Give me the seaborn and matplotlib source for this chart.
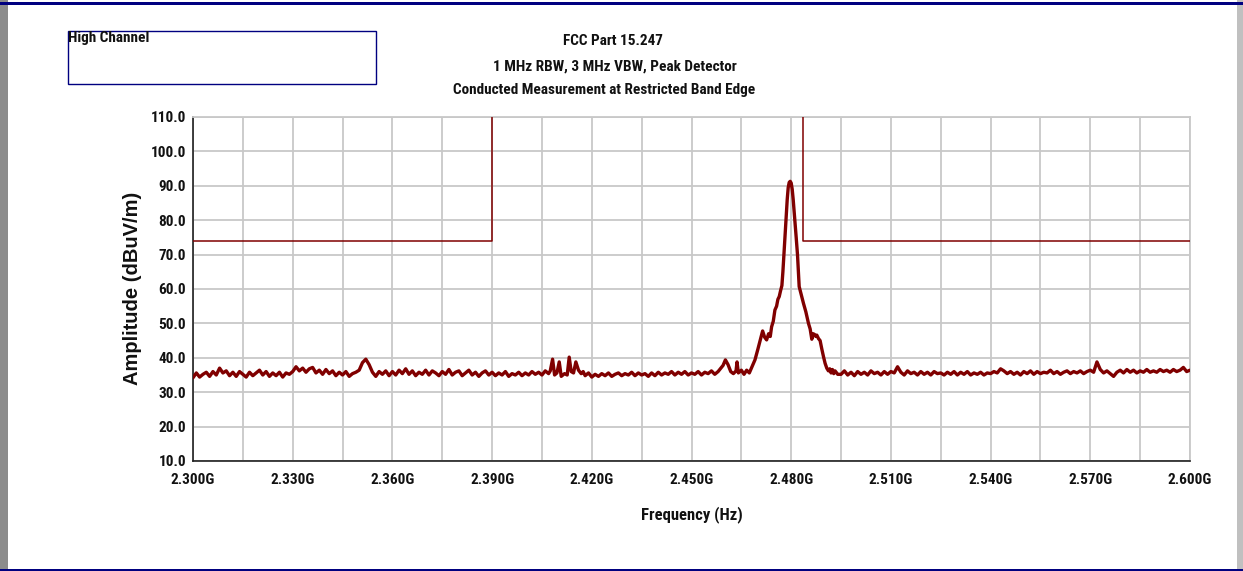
import matplotlib
matplotlib.use("Agg")
import matplotlib.pyplot as plt
import matplotlib.patches as mpatches
from matplotlib.ticker import FixedLocator, FuncFormatter, MultipleLocator
import seaborn as sns
import pandas as pd
import logging
logging.getLogger("matplotlib.font_manager").setLevel(logging.ERROR)

# ---------------- data ----------------
title_lines = ["FCC Part 15.247",
               "1 MHz RBW, 3 MHz VBW, Peak Detector",
               "Conducted Measurement at Restricted Band Edge"]
box_label = "High Channel"
x_label = "Frequency (Hz)"
y_label = "Amplitude (dBuV/m)"

# measured trace: frequency in MHz, amplitude in dBuV/m
trace_mhz = [
    2300, 2301, 2302, 2303, 2304, 2305, 2306, 2307, 2308, 2309,
    2310, 2311, 2312, 2313, 2314, 2315, 2316, 2317, 2318, 2319,
    2320, 2321, 2322, 2323, 2324, 2325, 2326, 2327, 2328, 2329,
    2330, 2331, 2332, 2333, 2334, 2335, 2336, 2337, 2338, 2339,
    2340, 2341, 2342, 2343, 2344, 2345, 2346, 2347, 2348, 2349,
    2350, 2351, 2352, 2353, 2354, 2355, 2356, 2357, 2358, 2359,
    2360, 2361, 2362, 2363, 2364, 2365, 2366, 2367, 2368, 2369,
    2370, 2371, 2372, 2373, 2374, 2375, 2376, 2377, 2378, 2379,
    2380, 2381, 2382, 2383, 2384, 2385, 2386, 2387, 2388, 2389,
    2390, 2391, 2392, 2393, 2394, 2395, 2396, 2397, 2398, 2399,
    2400, 2401, 2402, 2403, 2404, 2405, 2406, 2407,
    2407.5, 2408.2, 2408.8, 2409.5, 2410.2, 2410.8, 2411.8, 2412.6, 2413.2,
    2413.8, 2414.5, 2415.2, 2416.0, 2416.8, 2417.4,
    2418, 2419, 2420, 2421, 2422, 2423, 2424, 2425, 2426, 2427,
    2428, 2429, 2430, 2431, 2432, 2433, 2434, 2435, 2436, 2437,
    2438, 2439, 2440, 2441, 2442, 2443, 2444, 2445, 2446, 2447,
    2448, 2449, 2450, 2451, 2452, 2453, 2454, 2455, 2456, 2457, 2458,
    2459.5, 2460.2, 2461.0, 2461.8, 2462.6, 2463.4, 2463.7, 2464.1, 2465.0,
    2465.8, 2466.6, 2467.4, 2468.2, 2469.1, 2470.0, 2470.8, 2471.4, 2472.0,
    2472.6, 2473.2, 2473.7, 2474.1, 2474.6, 2475.1, 2475.6, 2476.0, 2476.4,
    2476.8, 2477.2, 2477.5, 2477.8, 2478.1, 2478.4, 2478.8, 2479.1, 2479.4,
    2479.7, 2480.0, 2480.3, 2480.6, 2481.1, 2481.5, 2481.9, 2482.2, 2482.4,
    2483.0, 2483.7, 2484.4, 2485.2, 2485.7, 2486.2, 2486.6, 2487.0, 2487.4,
    2487.7, 2488.2, 2488.7, 2489.2, 2489.7, 2490.2, 2490.7, 2491.2, 2491.6,
    2492.0, 2492.4, 2492.8, 2493.2, 2494.0,
    2495, 2496, 2497, 2498, 2499,
    2500, 2501, 2502, 2503, 2504, 2505, 2506, 2507, 2508, 2509,
    2510, 2511, 2512, 2513, 2514, 2515, 2516, 2517, 2518, 2519,
    2520, 2521, 2522, 2523, 2524, 2525, 2526, 2527, 2528, 2529,
    2530, 2531, 2532, 2533, 2534, 2535, 2536, 2537, 2538, 2539,
    2540, 2541, 2542, 2543, 2544, 2545, 2546, 2547, 2548, 2549,
    2550, 2551, 2552, 2553, 2554, 2555, 2556, 2557, 2558, 2559,
    2560, 2561, 2562, 2563, 2564, 2565, 2566, 2567, 2568, 2569,
    2570, 2571, 2572, 2573, 2574, 2575, 2576, 2577, 2578, 2579,
    2580, 2581, 2582, 2583, 2584, 2585, 2586, 2587, 2588, 2589,
    2590, 2591, 2592, 2593, 2594, 2595, 2596, 2597, 2598, 2599, 2600,
]
trace_db = [
    34.2, 35.6, 34.4, 35.2, 35.8, 34.6, 36.0, 35.0, 37.0, 35.6,
    36.2, 34.8, 35.8, 34.6, 36.0, 35.2, 34.4, 35.8, 34.8, 35.6,
    36.4, 35.0, 36.0, 34.6, 35.6, 34.8, 35.8, 34.4, 35.6, 35.2,
    36.0, 37.4, 36.2, 37.0, 35.8, 36.8, 37.2, 35.6, 36.4, 35.2,
    36.6, 35.4, 36.2, 34.8, 35.8, 35.0, 36.0, 34.6, 35.4, 35.8,
    36.4, 38.6, 39.6, 38.0, 35.8, 34.6, 36.0, 35.2, 36.2, 34.8,
    36.0, 35.0, 36.4, 35.4, 36.8, 35.2, 36.2, 34.8, 35.8, 35.2,
    36.4, 35.0, 36.2, 35.6, 34.8, 36.0, 35.2, 36.6, 35.0, 35.8,
    36.2, 34.8, 35.6, 36.4, 35.0, 35.8, 34.6, 35.6, 36.2, 35.0,
    35.8, 34.8, 35.6, 35.0, 36.0, 34.6, 35.4, 35.0, 35.8, 34.8,
    35.6, 35.0, 36.0, 35.2, 35.8, 35.0, 36.2, 35.4,
    36.2, 39.6, 35.0, 35.6, 38.8, 34.6, 35.4, 35.0, 40.2,
    36.0, 35.6, 38.8, 36.4, 35.4, 36.0,
    34.8, 35.6, 34.4, 35.2, 34.6, 35.4, 34.8, 35.6, 34.6, 35.2,
    35.6, 34.8, 35.4, 35.0, 35.8, 34.8, 35.6, 35.0, 35.4, 34.6,
    35.6, 34.8, 35.8, 35.0, 35.6, 35.2, 36.0, 35.0, 35.8, 35.2,
    36.0, 35.0, 35.6, 35.2, 36.0, 35.0, 35.8, 35.4, 36.2, 35.2, 36.0,
    37.8, 39.4, 38.0, 36.0, 35.4, 36.2, 38.8, 35.6, 36.4,
    35.2, 36.4, 35.6, 37.4, 39.4, 42.6, 45.6, 47.8, 46.0,
    45.2, 47.0, 46.2, 49.0, 50.6, 53.9, 55.0, 57.0, 57.8,
    59.5, 61.0, 65.0, 69.9, 75.0, 80.1, 86.0, 89.5, 91.0,
    91.3, 90.8, 89.0, 86.0, 80.1, 75.0, 69.9, 64.0, 60.7,
    58.4, 55.8, 53.4, 50.0, 48.4, 45.4, 47.0, 46.8, 46.2,
    46.6, 45.6, 45.0, 42.6, 40.4, 38.4, 37.0, 36.2, 36.8,
    35.6, 36.6, 35.4, 36.2, 35.2,
    35.2, 36.2, 35.0, 35.8, 34.8,
    36.0, 35.2, 35.8, 35.0, 36.2, 35.4, 35.8, 35.0, 36.0, 35.2,
    36.0, 35.6, 37.4, 35.8, 35.0, 36.2, 35.4, 35.8, 35.0, 36.0,
    35.2, 35.8, 35.0, 36.0, 35.4, 35.6, 35.0, 35.8, 35.2, 36.0,
    35.0, 35.8, 35.2, 36.0, 35.0, 35.6, 35.2, 35.8, 35.0, 35.6,
    35.4, 36.0, 35.6, 36.8, 36.2, 35.4, 36.0, 35.2, 35.8, 35.0,
    36.0, 35.4, 36.2, 35.2, 36.0, 35.4, 35.8, 35.6, 36.4, 35.4,
    36.0, 35.2, 35.8, 36.2, 35.4, 36.0, 35.6, 36.2, 35.4, 36.0,
    36.4, 35.8, 38.8, 36.6, 35.6, 36.2, 35.4, 34.6, 35.8, 36.4,
    35.6, 36.6, 35.8, 36.4, 35.6, 36.2, 35.8, 36.6, 35.8, 36.2,
    35.8, 36.6, 36.0, 36.4, 35.8, 36.6, 36.0, 36.4, 37.2, 36.0, 36.4,
]

# limit line (MHz, dBuV/m)
limit_mhz_low = [2300.0, 2390.0, 2390.0]
limit_db_low = [74.0, 74.0, 110.0]
limit_mhz_high = [2483.5, 2483.5, 2600.0]
limit_db_high = [110.0, 74.0, 74.0]

x_ticks_ghz = [2.300, 2.330, 2.360, 2.390, 2.420, 2.450, 2.480, 2.510, 2.540, 2.570, 2.600]
x_minor_ghz = [2.315, 2.345, 2.375, 2.405, 2.435, 2.465, 2.495, 2.525, 2.555, 2.585]
y_ticks = [10, 20, 30, 40, 50, 60, 70, 80, 90, 100, 110]

x_min, x_max = 2.300, 2.600
y_min, y_max = 10.0, 110.0

# ---------------- drawing ----------------
sns.set_theme(style="white")
narrow = ['Liberation Sans Narrow', 'Roboto Condensed', 'PT Sans Narrow', 'Archivo Narrow', 'DejaVu Sans']
plt.rcParams['font.family'] = narrow

trace_color = "#800000"
grid_color = "#c8c8c8"
navy = "#000080"
text_color = "#111111"

fig = plt.figure(figsize=(12.43, 5.71), dpi=100)
fig.patch.set_facecolor("white")

# window frame
fig.patches.append(mpatches.Rectangle((0, 0), 8 / 1243, 1, transform=fig.transFigure,
                                      facecolor="#8c8c8c", edgecolor="none", zorder=0))
fig.patches.append(mpatches.Rectangle((1237 / 1243, 0), 6 / 1243, 1, transform=fig.transFigure,
                                      facecolor="#c0c0c0", edgecolor="none", zorder=0))
fig.patches.append(mpatches.Rectangle((0, 1 - 5 / 571), 1, 3 / 571, transform=fig.transFigure,
                                      facecolor=navy, edgecolor="none", zorder=1))
fig.patches.append(mpatches.Rectangle((0, 0), 1, 2 / 571, transform=fig.transFigure,
                                      facecolor=navy, edgecolor="none", zorder=1))

ax = fig.add_axes([193 / 1243, 1 - 461 / 571, (1190 - 193) / 1243, (461 - 117) / 571])

df = pd.DataFrame({"freq": [m / 1000 for m in trace_mhz], "amp": trace_db})
sns.lineplot(data=df, x="freq", y="amp", ax=ax, color=trace_color, linewidth=2.4,
             estimator=None, sort=False, zorder=3)
lim_low = pd.DataFrame({"freq": [m / 1000 for m in limit_mhz_low], "amp": limit_db_low})
lim_high = pd.DataFrame({"freq": [m / 1000 for m in limit_mhz_high], "amp": limit_db_high})
sns.lineplot(data=lim_low, x="freq", y="amp", ax=ax, color=trace_color, linewidth=1.1,
             estimator=None, sort=False, zorder=3)
sns.lineplot(data=lim_high, x="freq", y="amp", ax=ax, color=trace_color, linewidth=1.1,
             estimator=None, sort=False, zorder=3)

ax.set_xlim(x_min, x_max)
ax.set_ylim(y_min, y_max)
ax.xaxis.set_major_locator(FixedLocator(x_ticks_ghz))
ax.xaxis.set_minor_locator(FixedLocator(x_minor_ghz))
ax.yaxis.set_major_locator(FixedLocator(y_ticks))
ax.yaxis.set_minor_locator(MultipleLocator(2))
ax.xaxis.set_major_formatter(FuncFormatter(lambda v, p: f"{v:.3f}G"))
ax.yaxis.set_major_formatter(FuncFormatter(lambda v, p: f"{v:.1f}"))

ax.grid(True, which="major", axis="both", color=grid_color, linewidth=1.3, zorder=0)
ax.grid(True, which="minor", axis="x", color=grid_color, linewidth=1.3, zorder=0)
ax.set_axisbelow(True)

for s in ["top", "right"]:
    ax.spines[s].set_color(grid_color)
    ax.spines[s].set_linewidth(1.3)
for s in ["left", "bottom"]:
    ax.spines[s].set_color("#202020")
    ax.spines[s].set_linewidth(1.2)

ax.tick_params(axis="both", which="major", direction="inout", length=9, width=1.1,
               color="#202020", labelsize=11)
ax.tick_params(axis="y", which="major", pad=0.5)
ax.tick_params(axis="x", which="major", pad=4)
ax.tick_params(axis="both", which="minor", direction="inout", length=5, width=1.0,
               color="#202020")
ax.tick_params(axis="y", which="both", right=False)
ax.tick_params(axis="x", which="both", top=False)
for lab in ax.get_xticklabels() + ax.get_yticklabels():
    lab.set_fontweight("bold")
    lab.set_color(text_color)

ax.set_xlabel(x_label, fontsize=12, fontweight="bold", color=text_color, labelpad=14)
ax.set_ylabel("")
fig.text(133 / 1243, 1 - 288 / 571, y_label, rotation=90, ha="center", va="center",
         fontsize=14.5, fontweight="bold", color=text_color,
         family=['Liberation Sans', 'DejaVu Sans'])

# titles
fig.text(613 / 1243, 1 - 41 / 571, title_lines[0], ha="center", va="center",
         fontsize=11, fontweight="bold", color=text_color)
fig.text(615 / 1243, 1 - 67 / 571, title_lines[1], ha="center", va="center",
         fontsize=11, fontweight="bold", color=text_color)
fig.text(604 / 1243, 1 - 90 / 571, title_lines[2], ha="center", va="center",
         fontsize=11, fontweight="bold", color=text_color)

# label box
fig.patches.append(mpatches.Rectangle((68 / 1243, 1 - 84 / 571), (376 - 68) / 1243, (84 - 31) / 571,
                                      transform=fig.transFigure, facecolor="none",
                                      edgecolor=navy, linewidth=1.0, zorder=2))
fig.text(68 / 1243, 1 - 38 / 571, box_label, ha="left", va="center",
         fontsize=11, fontweight="bold", color=text_color)

fig.savefig("out.png", dpi=100, facecolor=fig.get_facecolor())
